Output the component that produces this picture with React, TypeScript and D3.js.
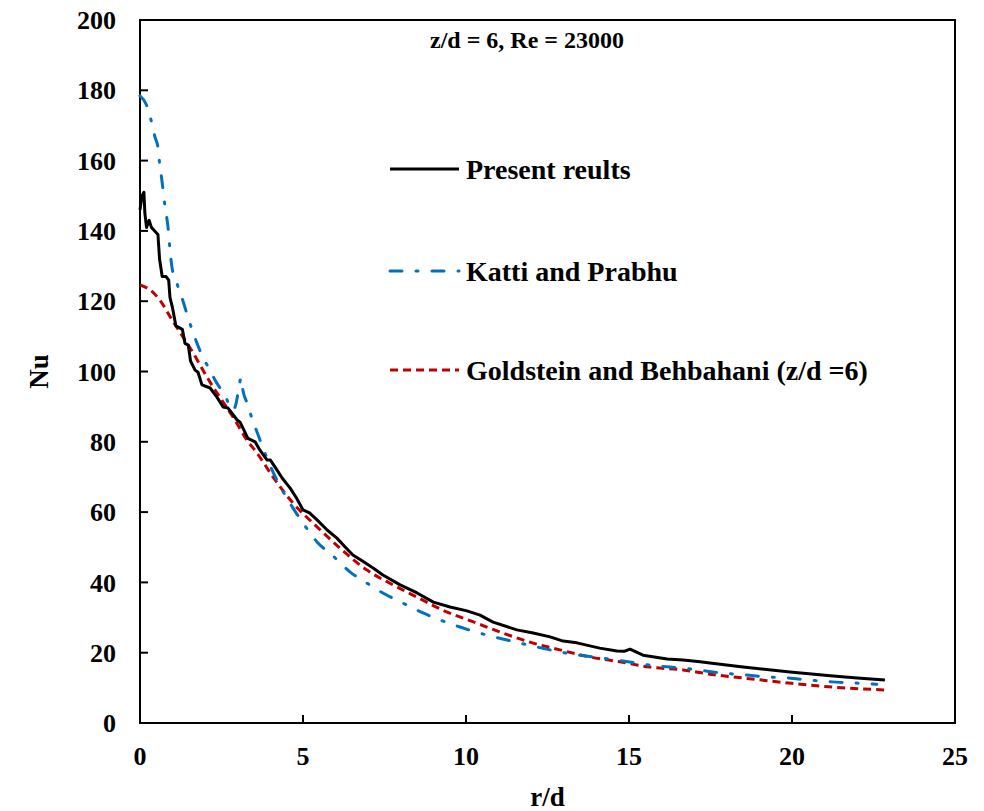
import React from "react";
import * as d3 from "d3";

const presentR = [0, 0.06, 0.12, 0.15, 0.2, 0.28, 0.35, 0.45, 0.55, 0.6, 0.68, 0.8, 0.88, 0.92, 1.0, 1.1, 1.3, 1.38, 1.48, 1.55, 1.69, 1.78, 1.9, 2.15, 2.36, 2.55, 2.7, 2.98, 3.07, 3.31, 3.53, 3.68, 3.9, 4.0, 4.2, 4.36, 4.6, 4.8, 5.0, 5.2, 5.43, 5.74, 6.04, 6.3, 6.53, 6.8, 7.15, 7.45, 7.98, 8.5, 9.0, 9.51, 10.03, 10.43, 10.83, 11.56, 12.06, 12.58, 12.98, 13.4, 14.1, 14.63, 14.85, 15.03, 15.43, 16.17, 16.66, 17.18, 17.48, 18.5, 19.94, 21.26, 22.0, 22.85];
const presentNu = [146, 150, 151, 145, 141, 143, 141, 140, 139, 132, 127, 127, 126, 121, 118, 113, 112, 108, 107.5, 103, 100.4, 99.8, 96.2, 95.3, 92.7, 89.9, 89.6, 86.2, 85.6, 81, 80, 77.6, 74.8, 74.8, 72, 69.7, 66.9, 64, 60.6, 59.8, 57.8, 54.9, 52.6, 50, 47.8, 46.2, 44.1, 42.1, 39.3, 37, 34.4, 33, 31.9, 30.7, 28.7, 26.5, 25.6, 24.5, 23.3, 22.8, 21.3, 20.5, 20.4, 21, 19.3, 18.2, 17.9, 17.4, 17.1, 15.9, 14.5, 13.4, 12.8, 12.2];

const kattiR = [0, 0.2, 0.34, 0.46, 0.55, 0.6, 0.67, 0.77, 0.86, 0.92, 0.98, 1.1, 1.32, 1.47, 1.63, 1.75, 1.93, 2.15, 2.3, 2.6, 2.85, 2.95, 3.05, 3.1, 3.15, 3.31, 3.47, 3.59, 3.74, 4.05, 4.69, 5.0, 5.43, 5.89, 6.44, 6.96, 7.45, 8.07, 8.68, 9.82, 10.64, 11.26, 11.9, 12.58, 13.25, 13.9, 14.63, 15.86, 16.66, 17.18, 17.88, 18.56, 19.23, 19.88, 20.55, 21.23, 21.87, 22.6];
const kattiNu = [178.4, 175.8, 171.5, 166.7, 163.9, 159.3, 154.5, 146.8, 141, 134.6, 129.7, 126, 120, 115.5, 111, 108, 104, 100.4, 97.6, 93.3, 89, 91, 96.5, 98.2, 95, 90.5, 85.6, 82.8, 79, 72, 61.2, 56.9, 51.5, 47.8, 43, 39.8, 37, 34.1, 31.3, 27.3, 25, 23.6, 22.2, 20.8, 19.6, 18.8, 17.9, 16.2, 15.6, 15, 14.2, 13.7, 13.1, 12.8, 12.2, 11.7, 11.4, 11.0];

const goldR = [0, 0.31, 0.61, 0.98, 1.32, 1.63, 1.93, 2.24, 2.55, 2.91, 3.28, 3.59, 4.08, 4.69, 5.43, 6.13, 6.96, 7.76, 8.5, 9.29, 10.1, 11.04, 11.96, 12.88, 13.8, 14.72, 15.64, 16.66, 17.48, 18.5, 19.88, 21.26, 22.85];
const goldNu = [124.6, 123.2, 120.3, 114.7, 109.8, 105.3, 100.4, 95.6, 91.3, 86.2, 80.5, 76.8, 70, 62.6, 55.8, 49.8, 43.5, 39.3, 35.8, 32.1, 29.2, 25.9, 23, 20.8, 18.8, 17.4, 15.9, 15.1, 13.9, 12.8, 11.4, 10.2, 9.4];

const xTicks = [0, 5, 10, 15, 20, 25];
const yTicks = [0, 20, 40, 60, 80, 100, 120, 140, 160, 180, 200];

const seriesNames = ["Present reults", "Katti and Prabhu", "Goldstein and Behbahani (z/d =6)"];

const FONT = "'Liberation Serif', 'Times New Roman', serif";

export default function App() {
  const W = 984, H = 811;
  const left = 140, right = 955, top = 20, bottom = 723;
  const x = d3.scaleLinear().domain([0, 25]).range([left, right]);
  const y = d3.scaleLinear().domain([0, 200]).range([bottom, top]);

  const mk = (rs: number[], ns: number[]) => rs.map((r, i) => [r, ns[i]] as [number, number]);
  const lineJag = d3.line<[number, number]>().x(d => x(d[0])).y(d => y(d[1]));
  const lineSmooth = d3.line<[number, number]>().x(d => x(d[0])).y(d => y(d[1])).curve(d3.curveMonotoneX);

  const styles = [
    { color: "#000000", dash: undefined as string | undefined, cap: "butt" },
    { color: "#0070C0", dash: "12,14,2,14", cap: "round" },
    { color: "#C00000", dash: "8,5", cap: "butt" },
  ];
  const legendY = [169, 271, 370];

  return (
    <svg width={W} height={H} style={{ position: "absolute", left: 0, top: 0, background: "#fff" }}>
      <rect x={0} y={0} width={W} height={H} fill="#fff" />
      <rect x={left} y={top} width={right - left} height={bottom - top} fill="none" stroke="#000" strokeWidth={2} />
      {yTicks.map(t => (
        <g key={"y" + t}>
          <line x1={left} x2={left + 8} y1={y(t)} y2={y(t)} stroke="#000" strokeWidth={2} />
          <text x={116} y={y(t)} dy="0.35em" textAnchor="end" fontFamily={FONT} fontWeight="bold" fontSize={26}>{t}</text>
        </g>
      ))}
      {xTicks.map(t => (
        <g key={"x" + t}>
          {t > 0 && t < 25 && <line x1={x(t)} x2={x(t)} y1={bottom} y2={bottom - 8} stroke="#000" strokeWidth={2} />}
          <text x={x(t)} y={765} textAnchor="middle" fontFamily={FONT} fontWeight="bold" fontSize={26}>{t}</text>
        </g>
      ))}
      <text x={(left + right) / 2} y={806} textAnchor="middle" fontFamily={FONT} fontWeight="bold" fontSize={27}>r/d</text>
      <text transform={`translate(48, ${(top + bottom) / 2}) rotate(-90)`} textAnchor="middle" fontFamily={FONT} fontWeight="bold" fontSize={27}>Nu</text>
      <text x={527} y={48} textAnchor="middle" fontFamily={FONT} fontWeight="bold" fontSize={24}>z/d = 6, Re = 23000</text>

      <path d={lineSmooth(mk(goldR, goldNu)) || ""} fill="none" stroke={styles[2].color} strokeWidth={3} strokeDasharray={styles[2].dash} />
      <path d={lineSmooth(mk(kattiR, kattiNu)) || ""} fill="none" stroke={styles[1].color} strokeWidth={3} strokeDasharray={styles[1].dash} strokeLinecap="round" />
      <path d={lineJag(mk(presentR, presentNu)) || ""} fill="none" stroke={styles[0].color} strokeWidth={3} strokeLinejoin="round" />

      {seriesNames.map((n, i) => (
        <g key={n}>
          <line x1={390} x2={459} y1={legendY[i]} y2={legendY[i]} stroke={styles[i].color} strokeWidth={3} strokeDasharray={styles[i].dash} strokeLinecap={styles[i].cap as any} />
          <text x={466} y={legendY[i]} dy="0.35em" fontFamily={FONT} fontWeight="bold" fontSize={28}>{n}</text>
        </g>
      ))}
    </svg>
  );
}
